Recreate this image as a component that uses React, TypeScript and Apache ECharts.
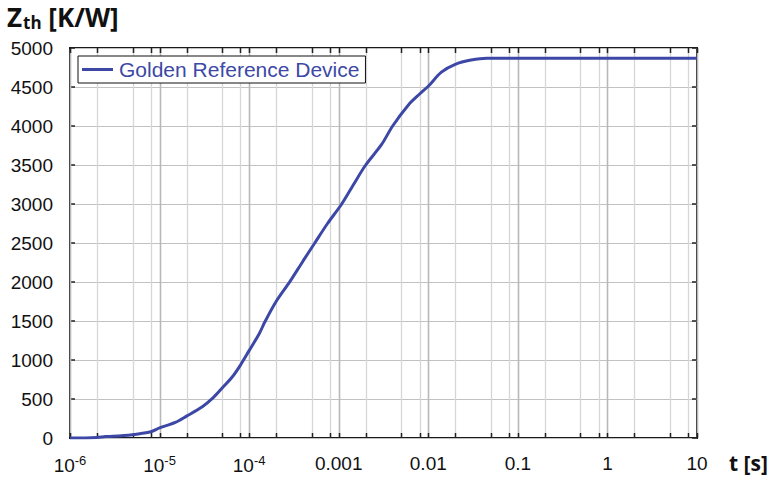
import React, { useEffect, useRef } from "react";
import * as echarts from "echarts";

const timeValues = [
  1e-6, 1.5e-6, 2e-6, 2.5e-6, 3e-6, 4e-6, 5e-6, 6e-6, 8e-6,
  1e-5, 1.5e-5, 2e-5, 3e-5, 4e-5, 5e-5, 6.5e-5, 8e-5,
  1e-4, 1.3e-4, 1.5e-4, 2e-4, 2.85e-4, 4e-4, 5.4e-4, 7.5e-4,
  1.08e-3, 1.5e-3, 2e-3, 3e-3, 4e-3, 6e-3, 8e-3,
  1e-2, 1.4e-2, 2e-2, 3e-2, 4.5e-2, 0.1, 1, 10,
];
const zthValues = [
  0, 0, 5, 18, 22, 32, 43, 55, 80,
  130, 200, 280, 400, 520, 640, 785, 935,
  1120, 1340, 1490, 1750, 2005, 2270, 2500, 2750,
  3000, 3270, 3500, 3760, 4000, 4270, 4410,
  4510, 4690, 4790, 4845, 4870, 4870, 4870, 4870,
];
const gridMajor = [1e-6, 1e-5, 1e-4, 1e-3, 1e-2, 1e-1, 1, 10];
const gridMinorFactors = [2, 5, 8];
const seriesName = "Golden Reference Device";
const yTicks = { min: 0, max: 5000, interval: 500 };

const BLUE = "#3d48a6";

export default function App() {
  const ref = useRef<HTMLDivElement>(null);
  useEffect(() => {
    if (!ref.current) return;
    const chart = echarts.init(ref.current, undefined, { renderer: "svg" });
    const gridLines: number[][] = [];
    gridMajor.forEach((m, i) => {
      gridLines.push([m, 1]);
      if (i < gridMajor.length - 1) {
        gridMinorFactors.forEach((f) => gridLines.push([m * f, 0]));
      }
    });
    const fmtX = (v: number) => {
      const e = Math.round(Math.log10(v));
      if (e <= -4) return "{b|10}{s|" + e + "}";
      if (e < 0) return "{b|" + Math.pow(10, e).toFixed(-e) + "}";
      return "{b|" + String(Math.pow(10, e)) + "}";
    };
    chart.setOption({
      animation: false,
      backgroundColor: "#ffffff",
      grid: {
        left: 70,
        right: 73,
        top: 48,
        bottom: 44,
        show: true,
        borderColor: "#1a1a1a",
        borderWidth: 2,
        backgroundColor: "#ffffff",
      },
      xAxis: {
        type: "log",
        logBase: 10,
        min: 1e-6,
        max: 10,
        axisLine: { show: false },
        axisTick: { show: false },
        splitLine: { show: false },
        axisLabel: {
          margin: 16,
          formatter: fmtX,
          rich: {
            b: { fontFamily: "Liberation Sans", fontSize: 19, color: "#111" },
            s: {
              fontFamily: "Liberation Sans",
              fontSize: 13,
              color: "#111",
              padding: [0, 0, 9, 0],
            },
          },
        },
      },
      yAxis: [
        {
          type: "value",
          min: yTicks.min,
          max: yTicks.max,
          interval: yTicks.interval,
          axisLine: { show: false },
          axisTick: {
            show: true,
            inside: true,
            length: 5,
            lineStyle: { color: "#222", width: 1.5 },
          },
          splitLine: { show: true, lineStyle: { color: "#c2c2c2", width: 1.2 } },
          axisLabel: {
            margin: 17,
            fontFamily: "Liberation Sans",
            fontSize: 19,
            color: "#111",
            formatter: (v: number) => String(v),
          },
        },
        {
          type: "value",
          position: "right",
          min: yTicks.min,
          max: yTicks.max,
          interval: yTicks.interval,
          axisLine: { show: false },
          axisTick: {
            show: true,
            inside: true,
            length: 5,
            lineStyle: { color: "#222", width: 1.5 },
          },
          splitLine: { show: false },
          axisLabel: { show: false },
        },
      ],
      legend: {
        left: 78,
        top: 56,
        orient: "horizontal",
        padding: [3, 6, 3, 4],
        borderColor: "#111",
        borderWidth: 1,
        backgroundColor: "#ffffff",
        itemWidth: 31,
        itemHeight: 14,
        itemGap: 5,
        data: [{ name: seriesName, icon: "path://M0,6 L31,6 L31,9 L0,9 Z" }],
        textStyle: {
          fontFamily: "Liberation Sans",
          fontSize: 21,
          color: BLUE,
          padding: [0, 0, 0, 1],
        },
      },
      graphic: [
        {
          type: "text",
          left: 7,
          top: 2,
          style: {
            text: "{z|Z}{s|th}{z| [K/W]}",
            rich: {
              z: {
                fontFamily: "Open Sans",
                fontWeight: "bold",
                fontSize: 26,
                lineHeight: 30,
                fill: "#111",
              },
              s: {
                fontFamily: "Open Sans",
                fontWeight: "bold",
                fontSize: 17,
                lineHeight: 18,
                fill: "#111",
                padding: [12, 0, 0, 1],
              },
            },
          },
        },
        {
          type: "text",
          left: 729,
          top: 452,
          style: {
            text: "t [s]",
            fontFamily: "Open Sans",
            fontWeight: "bold",
            fontSize: 21,
            fill: "#111",
          },
        },
      ],
      series: [
        {
          type: "custom",
          silent: true,
          z: 1,
          data: gridLines,
          renderItem: (params: any, api: any) => {
            const cs = params.coordSys;
            const x = api.coord([api.value(0), 1])[0];
            const major = api.value(1) === 1;
            const top = cs.y;
            const bottom = cs.y + cs.height;
            const xx = Math.round(x) + 0.5;
            return {
              type: "group",
              children: [
                {
                  type: "line",
                  shape: { x1: xx, y1: top + 1, x2: xx, y2: bottom - 1 },
                  style: {
                    stroke: major ? "#b8b8b8" : "#d6d6d6",
                    lineWidth: major ? 1.6 : 1.3,
                  },
                },
                {
                  type: "line",
                  shape: { x1: xx, y1: bottom, x2: xx, y2: bottom - 5 },
                  style: { stroke: "#222", lineWidth: 1.5 },
                },
                {
                  type: "line",
                  shape: { x1: xx, y1: top, x2: xx, y2: top + 5 },
                  style: { stroke: "#222", lineWidth: 1.5 },
                },
              ],
            };
          },
        },
        {
          name: seriesName,
          type: "line",
          z: 3,
          symbol: "none",
          smooth: 0.3,
          data: timeValues.map((t, i) => [t, zthValues[i]]),
          lineStyle: { color: BLUE, width: 3 },
          itemStyle: { color: BLUE },
        },
      ],
    });
    return () => chart.dispose();
  }, []);
  return <div ref={ref} style={{ width: 770, height: 482, position: "absolute", left: 0, top: 0 }} />;
}
